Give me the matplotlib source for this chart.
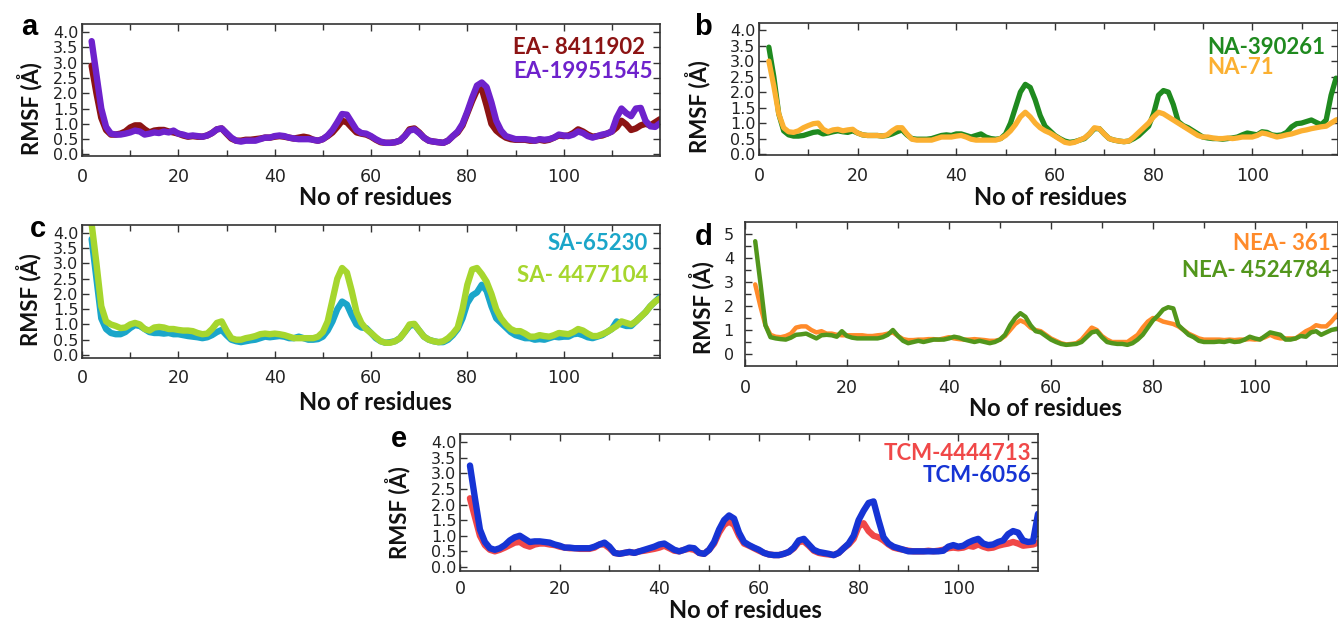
"""RMSF per residue for the five ligand complexes (panels a-e)."""
import numpy as np
import matplotlib.pyplot as plt

W, H = 1338, 621

# ---- panel a : residues 2..120 ----
EA_8411902 = [
    2.9, 2.0, 1.2, 0.8, 0.65, 0.65, 0.68, 0.75, 0.88, 0.95,        # 2-11
    0.95, 0.82, 0.72, 0.78, 0.8, 0.8, 0.75, 0.72, 0.68, 0.62,      # 12-21
    0.58, 0.6, 0.58, 0.58, 0.62, 0.7, 0.82, 0.85, 0.68, 0.52,      # 22-31
    0.45, 0.45, 0.48, 0.48, 0.5, 0.52, 0.55, 0.55, 0.58, 0.6,      # 32-41
    0.58, 0.55, 0.52, 0.55, 0.58, 0.55, 0.48, 0.45, 0.5, 0.6,      # 42-51
    0.72, 0.9, 1.1, 1.05, 0.88, 0.72, 0.68, 0.65, 0.58, 0.48,      # 52-61
    0.4, 0.38, 0.38, 0.4, 0.45, 0.6, 0.82, 0.85, 0.72, 0.55,       # 62-71
    0.45, 0.42, 0.4, 0.38, 0.45, 0.6, 0.72, 0.95, 1.35, 1.75,      # 72-81
    2.1, 2.15, 1.6, 1.0, 0.78, 0.65, 0.55, 0.5, 0.48, 0.48,        # 82-91
    0.48, 0.45, 0.45, 0.48, 0.45, 0.48, 0.55, 0.62, 0.6, 0.62,     # 92-101
    0.7, 0.82, 0.75, 0.65, 0.58, 0.6, 0.62, 0.68, 0.75, 0.88,      # 102-111
    1.1, 0.98, 0.8, 0.85, 0.95, 1.0, 0.95, 1.05, 1.15,             # 112-120
]
EA_19951545 = [
    3.7, 2.6, 1.5, 0.9, 0.68, 0.65, 0.65, 0.68, 0.72, 0.78,
    0.75, 0.65, 0.68, 0.72, 0.7, 0.75, 0.72, 0.78, 0.68, 0.65,
    0.6, 0.62, 0.6, 0.58, 0.62, 0.7, 0.82, 0.85, 0.7, 0.55,
    0.45, 0.42, 0.45, 0.45, 0.45, 0.5, 0.55, 0.55, 0.6, 0.62,
    0.6, 0.55, 0.52, 0.5, 0.5, 0.5, 0.48, 0.45, 0.5, 0.62,
    0.8, 1.05, 1.32, 1.3, 1.05, 0.8, 0.7, 0.68, 0.6, 0.5,
    0.42, 0.38, 0.38, 0.4, 0.45, 0.6, 0.78, 0.82, 0.7, 0.55,
    0.45, 0.42, 0.4, 0.38, 0.45, 0.6, 0.75, 1.0, 1.4, 1.85,
    2.25, 2.35, 2.2, 1.7, 1.1, 0.78, 0.6, 0.55, 0.5, 0.5,
    0.5, 0.48, 0.45, 0.5, 0.48, 0.5, 0.55, 0.65, 0.62, 0.6,
    0.65, 0.75, 0.7, 0.6, 0.55, 0.6, 0.65, 0.68, 0.75, 1.2,
    1.5, 1.35, 1.25, 1.5, 1.52, 1.1, 0.92, 0.9, 1.02,
]

# ---- panel b : residues 2..118 ----
NA_390261 = [
    3.45, 2.5, 1.3, 0.75, 0.62, 0.58, 0.58, 0.6, 0.65, 0.7,
    0.72, 0.65, 0.68, 0.72, 0.75, 0.72, 0.7, 0.75, 0.68, 0.62,
    0.6, 0.6, 0.6, 0.58, 0.6, 0.65, 0.72, 0.78, 0.62, 0.5,
    0.48, 0.48, 0.48, 0.5, 0.55, 0.6, 0.62, 0.6, 0.65, 0.65,
    0.6, 0.55, 0.6, 0.65, 0.55, 0.5, 0.48, 0.5, 0.65, 1.0,
    1.5, 2.0, 2.25, 2.15, 1.75, 1.25, 0.9, 0.75, 0.6, 0.5,
    0.42, 0.38, 0.4, 0.45, 0.5, 0.65, 0.82, 0.82, 0.65, 0.5,
    0.45, 0.42, 0.4, 0.42, 0.5, 0.6, 0.75, 0.9, 1.3, 1.9,
    2.05, 2.0, 1.6, 1.05, 0.92, 0.85, 0.75, 0.65, 0.55, 0.52,
    0.5, 0.5, 0.48, 0.5, 0.52, 0.55, 0.62, 0.68, 0.65, 0.62,
    0.72, 0.7, 0.62, 0.6, 0.62, 0.7, 0.88, 0.98, 1.0, 1.05,
    1.1, 1.02, 0.95, 1.1, 1.9, 2.45, 2.4,
]
NA_71 = [
    3.0, 2.2, 1.3, 0.85, 0.72, 0.7, 0.75, 0.85, 0.92, 0.98,
    1.0, 0.8, 0.72, 0.78, 0.8, 0.75, 0.78, 0.8, 0.68, 0.62,
    0.6, 0.6, 0.6, 0.58, 0.62, 0.75, 0.85, 0.85, 0.65, 0.48,
    0.45, 0.45, 0.45, 0.45, 0.5, 0.55, 0.55, 0.55, 0.58, 0.6,
    0.55, 0.48, 0.45, 0.45, 0.45, 0.45, 0.45, 0.5, 0.6, 0.75,
    0.95, 1.2, 1.35, 1.2, 1.0, 0.85, 0.75, 0.68, 0.58, 0.48,
    0.38, 0.35, 0.38, 0.45, 0.52, 0.65, 0.85, 0.82, 0.65, 0.5,
    0.45, 0.42, 0.4, 0.42, 0.55, 0.7, 0.85, 1.0, 1.2, 1.35,
    1.3, 1.2, 1.1, 1.0, 0.9, 0.8, 0.7, 0.6, 0.55, 0.55,
    0.52, 0.5, 0.5, 0.52, 0.5, 0.52, 0.55, 0.55, 0.55, 0.6,
    0.68, 0.65, 0.6, 0.55, 0.58, 0.62, 0.65, 0.7, 0.75, 0.78,
    0.82, 0.85, 0.88, 0.9, 1.0, 1.1, 1.15,
]

# ---- panel c : residues 2..120 ----
SA_65230 = [
    3.8, 2.5, 1.2, 0.85, 0.72, 0.68, 0.68, 0.75, 0.88, 0.98,
    0.95, 0.85, 0.75, 0.72, 0.72, 0.7, 0.72, 0.68, 0.68, 0.65,
    0.62, 0.6, 0.58, 0.55, 0.58, 0.65, 0.75, 0.82, 0.65, 0.5,
    0.45, 0.42, 0.45, 0.48, 0.5, 0.55, 0.6, 0.58, 0.6, 0.62,
    0.6, 0.55, 0.55, 0.6, 0.55, 0.5, 0.5, 0.52, 0.6, 0.8,
    1.1, 1.5, 1.75, 1.65, 1.3, 1.0, 0.9, 0.88, 0.72, 0.55,
    0.45, 0.4, 0.42, 0.45, 0.55, 0.75, 0.95, 1.0, 0.8, 0.6,
    0.5, 0.45, 0.42, 0.42, 0.5, 0.65, 0.85, 1.2, 1.7, 1.95,
    2.05, 2.3, 2.1, 1.6, 1.2, 1.05, 0.9, 0.75, 0.65, 0.6,
    0.55, 0.55, 0.5, 0.52, 0.5, 0.55, 0.6, 0.58, 0.6, 0.6,
    0.68, 0.7, 0.65, 0.58, 0.55, 0.6, 0.65, 0.75, 0.85, 1.1,
    1.0, 0.95, 0.95, 1.1, 1.25, 1.4, 1.6, 1.75, 1.9,
]
SA_4477104 = [
    4.3, 3.0, 1.6, 1.1, 1.0, 0.95, 0.88, 0.9, 1.0, 1.05,
    1.0, 0.85, 0.8, 0.9, 0.92, 0.9, 0.85, 0.85, 0.82, 0.8,
    0.8, 0.78, 0.72, 0.68, 0.7, 0.85, 1.05, 1.1, 0.8, 0.55,
    0.5, 0.5, 0.55, 0.58, 0.62, 0.68, 0.7, 0.68, 0.7, 0.68,
    0.65, 0.6, 0.55, 0.55, 0.55, 0.55, 0.55, 0.6, 0.75, 1.1,
    1.8, 2.5, 2.85, 2.7, 2.1, 1.4, 1.05, 0.85, 0.72, 0.58,
    0.45, 0.4, 0.4, 0.45, 0.55, 0.75, 1.0, 1.02, 0.8, 0.6,
    0.5, 0.45, 0.42, 0.45, 0.55, 0.7, 0.9, 1.5, 2.3, 2.8,
    2.85, 2.65, 2.4, 2.0, 1.5, 1.2, 1.0, 0.85, 0.78, 0.78,
    0.7, 0.6, 0.6, 0.65, 0.62, 0.6, 0.65, 0.72, 0.7, 0.68,
    0.75, 0.85, 0.8, 0.7, 0.62, 0.62, 0.68, 0.75, 0.85, 0.95,
    1.1, 1.05, 1.0, 1.1, 1.25, 1.4, 1.6, 1.75, 1.85,
]

# ---- panel d : residues 2..117 ----
NEA_361 = [
    2.9, 2.0, 1.2, 0.8, 0.72, 0.7, 0.75, 0.85, 1.1, 1.15,
    1.15, 1.0, 0.9, 0.95, 0.85, 0.85, 0.8, 0.78, 0.78, 0.78,
    0.78, 0.78, 0.75, 0.75, 0.78, 0.8, 0.85, 0.9, 0.75, 0.62,
    0.58, 0.58, 0.6, 0.6, 0.62, 0.62, 0.6, 0.65, 0.7, 0.65,
    0.62, 0.6, 0.6, 0.62, 0.6, 0.58, 0.55, 0.55, 0.6, 0.75,
    1.0, 1.25, 1.4, 1.3, 1.1, 1.0, 0.95, 0.8, 0.65, 0.55,
    0.45, 0.4, 0.42, 0.45, 0.6, 0.85, 1.1, 1.0, 0.75, 0.6,
    0.5, 0.5, 0.5, 0.5, 0.65, 0.8, 1.1, 1.35, 1.5, 1.45,
    1.35, 1.3, 1.25, 1.15, 1.0, 0.85, 0.75, 0.65, 0.6, 0.6,
    0.6, 0.6, 0.58, 0.6, 0.58, 0.6, 0.6, 0.62, 0.6, 0.62,
    0.7, 0.8, 0.7, 0.65, 0.65, 0.65, 0.65, 0.8, 0.95, 1.05,
    1.2, 1.15, 1.15, 1.35, 1.6, 1.8,
]
NEA_4524784 = [
    4.7, 3.0, 1.2, 0.7, 0.65, 0.62, 0.6, 0.68, 0.8, 0.82,
    0.85, 0.75, 0.65, 0.78, 0.8, 0.78, 0.72, 0.95, 0.75, 0.68,
    0.65, 0.65, 0.65, 0.65, 0.65, 0.7, 0.8, 1.0, 0.75, 0.55,
    0.45, 0.5, 0.55, 0.5, 0.55, 0.6, 0.6, 0.6, 0.65, 0.72,
    0.68, 0.6, 0.55, 0.5, 0.55, 0.5, 0.45, 0.5, 0.6, 0.8,
    1.2, 1.5, 1.7, 1.55, 1.2, 0.95, 0.9, 0.75, 0.6, 0.5,
    0.42, 0.38, 0.4, 0.42, 0.5, 0.7, 0.9, 0.95, 0.7, 0.5,
    0.45, 0.42, 0.42, 0.38, 0.45, 0.6, 0.8, 1.1, 1.4, 1.6,
    1.85, 1.95, 1.9, 1.2, 1.0, 0.8, 0.7, 0.55, 0.5, 0.5,
    0.5, 0.52, 0.5, 0.55, 0.5, 0.52, 0.6, 0.72, 0.65, 0.6,
    0.75, 0.9, 0.85, 0.8, 0.6, 0.6, 0.65, 0.75, 0.72, 0.9,
    0.95, 0.8, 0.9, 1.0, 1.05, 1.05,
]

# ---- panel e : residues 2..117 ----
TCM_4444713 = [
    2.2, 1.6, 1.0, 0.7, 0.55, 0.5, 0.55, 0.62, 0.7, 0.78,
    0.8, 0.7, 0.65, 0.72, 0.75, 0.75, 0.72, 0.7, 0.65, 0.62,
    0.6, 0.6, 0.58, 0.58, 0.58, 0.62, 0.72, 0.72, 0.6, 0.45,
    0.42, 0.45, 0.48, 0.45, 0.5, 0.52, 0.55, 0.58, 0.62, 0.68,
    0.6, 0.52, 0.5, 0.55, 0.58, 0.55, 0.45, 0.42, 0.55, 0.75,
    1.1, 1.35, 1.45, 1.35, 1.0, 0.75, 0.68, 0.6, 0.52, 0.45,
    0.4, 0.38, 0.38, 0.42, 0.48, 0.6, 0.8, 0.82, 0.68, 0.52,
    0.45, 0.42, 0.4, 0.38, 0.45, 0.6, 0.72, 0.9, 1.3, 1.4,
    1.15, 1.0, 0.95, 0.85, 0.72, 0.62, 0.58, 0.55, 0.52, 0.5,
    0.5, 0.5, 0.52, 0.5, 0.52, 0.55, 0.6, 0.62, 0.6, 0.62,
    0.68, 0.65, 0.72, 0.65, 0.6, 0.62, 0.68, 0.72, 0.75, 0.8,
    0.75, 0.68, 0.7, 0.72, 0.78, 0.8,
]
TCM_6056 = [
    3.25, 2.2, 1.2, 0.8, 0.6, 0.55, 0.6, 0.7, 0.85, 0.95,
    1.0, 0.9, 0.8, 0.82, 0.82, 0.8, 0.78, 0.72, 0.68, 0.62,
    0.62, 0.6, 0.6, 0.6, 0.6, 0.65, 0.72, 0.78, 0.65, 0.45,
    0.42, 0.45, 0.48, 0.45, 0.5, 0.55, 0.6, 0.65, 0.72, 0.75,
    0.65, 0.55, 0.5, 0.55, 0.62, 0.6, 0.45, 0.42, 0.55, 0.8,
    1.2, 1.5, 1.65, 1.55, 1.1, 0.8, 0.7, 0.62, 0.55, 0.45,
    0.4, 0.38, 0.38, 0.42, 0.48, 0.62, 0.85, 0.9, 0.72, 0.55,
    0.48, 0.45, 0.42, 0.38, 0.45, 0.6, 0.75, 1.0, 1.5, 1.8,
    2.05, 2.1, 1.5, 0.95, 0.75, 0.65, 0.6, 0.55, 0.5, 0.5,
    0.5, 0.5, 0.5, 0.5, 0.5, 0.52, 0.65, 0.7, 0.65, 0.68,
    0.78, 0.85, 0.9, 0.75, 0.7, 0.72, 0.8, 0.85, 1.05, 1.15,
    1.1, 0.85, 0.8, 0.82, 1.7, 1.75,
]

FIRST_RESIDUE = 2
BOLD = "Lato"

# panel layout in pixels: (left, top, right, bottom)
PANELS = [
    dict(letter="a", rect=(82, 24, 660, 156), xmax=120, ylim=(-0.05, 4.26),
         series=[(EA_8411902, "EA- 8411902", "#8c1414"),
                 (EA_19951545, "EA-19951545", "#6e22cc")],
         lw=4.6, legend=((513, 48), (513, 72)), legend_ha="left",
         letter_xy=(29, 35), xlabel_xy=(375, 197), ylabel_xy=(30, 109),
         xpad=8.5),
    dict(letter="b", rect=(759, 23, 1338, 155), xmax=117.4, ylim=(-0.03, 4.23),
         series=[(NA_390261, "NA-390261", "#1f8a1f"),
                 (NA_71, "NA-71", "#fbb031")],
         lw=3.8, legend=((1207, 47), (1207, 68)), legend_ha="left",
         letter_xy=(703, 35), xlabel_xy=(1050, 197), ylabel_xy=(698, 107),
         xpad=8.5),
    dict(letter="c", rect=(82, 225, 660, 358), xmax=120, ylim=(-0.1, 4.26),
         series=[(SA_65230, "SA-65230", "#1ba6c9"),
                 (SA_4477104, "SA- 4477104", "#a6d62e")],
         lw=4.6, legend=((648, 244), (648, 275)), legend_ha="right",
         letter_xy=(38, 237), xlabel_xy=(375, 402), ylabel_xy=(29, 300),
         xpad=8),
    dict(letter="d", rect=(745, 222, 1338, 366), xmax=116.3, ylim=(-0.5, 5.5),
         series=[(NEA_361, "NEA- 361", "#ff8a2a"),
                 (NEA_4524784, "NEA- 4524784", "#52961c")],
         lw=3.2, legend=((1331, 243), (1331, 271)), legend_ha="right",
         letter_xy=(704, 245), xlabel_xy=(1045, 409), ylabel_xy=(702, 308),
         xpad=9.5),
    dict(letter="e", rect=(460, 434, 1038, 571), xmax=116, ylim=(-0.13, 4.26),
         series=[(TCM_4444713, "TCM-4444713", "#f04848"),
                 (TCM_6056, "TCM-6056", "#1634d4")],
         lw=4.6, legend=((1031, 453), (1031, 476)), legend_ha="right",
         letter_xy=(399, 447), xlabel_xy=(745, 610), ylabel_xy=(398, 513),
         xpad=6.5),
]


def fig_xy(x, y):
    return x / W, 1 - y / H


def draw_panel(fig, p):
    left, top, right, bottom = p["rect"]
    ax = fig.add_axes([left / W, 1 - bottom / H, (right - left) / W, (bottom - top) / H])

    for values, name, colour in p["series"]:
        res = np.arange(FIRST_RESIDUE, FIRST_RESIDUE + len(values))
        ax.plot(res, values, color=colour, lw=p["lw"],
                solid_capstyle="round", solid_joinstyle="round")

    ax.set_xlim(0, p["xmax"])
    ax.set_ylim(*p["ylim"])
    ax.set_xticks(np.arange(0, 101, 20))
    ax.set_xticks(np.arange(10, 120, 20), minor=True)
    if p["ylim"][1] > 5:
        ax.set_yticks(np.arange(0, 6, 1))
        ax.set_yticks(np.arange(0.5, 5.5, 1), minor=True)
        ax.tick_params(axis="y", labelsize=11.5, pad=8)
    else:
        ax.set_yticks(np.arange(0, 4.01, 0.5))
        ax.set_yticklabels([f"{v:.1f}" for v in np.arange(0, 4.01, 0.5)])
        ax.tick_params(axis="y", labelsize=11.5, pad=2.5)
    ax.tick_params(axis="x", labelsize=12.5, pad=p["xpad"])
    ax.tick_params(which="both", direction="in", top=True, right=True,
                   colors="#333333", labelcolor="#222222", width=1.0)
    ax.tick_params(which="major", length=5)
    ax.tick_params(which="minor", length=4)
    for s in ax.spines.values():
        s.set_color("#333333")
        s.set_linewidth(1.2)

    for (values, name, colour), (lx, ly) in zip(p["series"], p["legend"]):
        fig.text(*fig_xy(lx, ly), name, color=colour, fontsize=16,
                 family=BOLD, weight="bold", ha=p["legend_ha"], va="center")

    fig.text(*fig_xy(*p["letter_xy"]), p["letter"], fontsize=21,
             family="Liberation Sans", weight="bold", ha="center", va="baseline")
    fig.text(*fig_xy(*p["xlabel_xy"]), "No of residues", fontsize=17,
             family=BOLD, weight="bold", ha="center", va="center", color="#111111")
    fig.text(*fig_xy(*p["ylabel_xy"]), "RMSF (Å)", fontsize=16, rotation=90,
             family=BOLD, weight="bold", ha="center", va="center", color="#111111")
    return ax


def main():
    fig = plt.figure(figsize=(W / 100, H / 100), dpi=100)
    for p in PANELS:
        draw_panel(fig, p)
    fig.savefig("out.png", dpi=100)


if __name__ == "__main__":
    main()
